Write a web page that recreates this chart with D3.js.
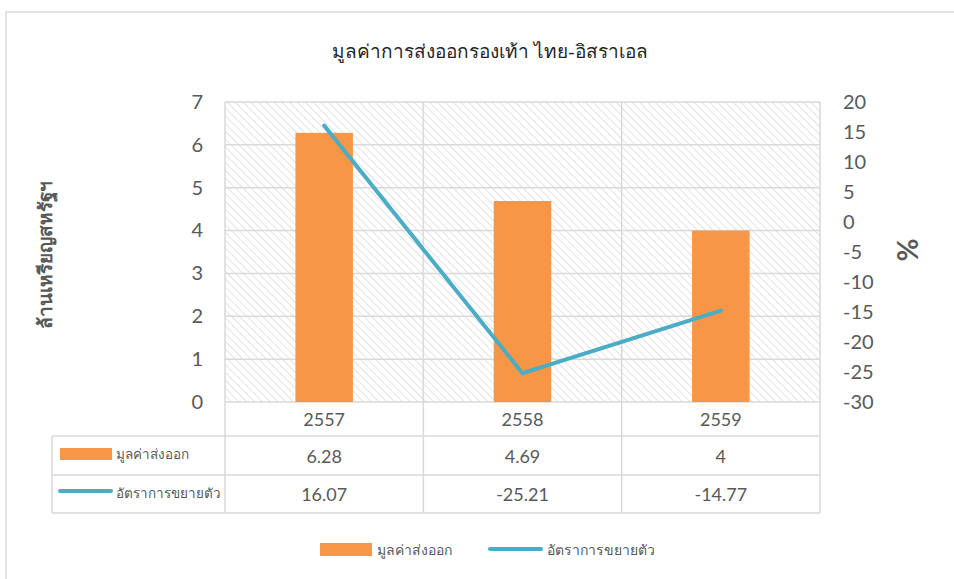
<!DOCTYPE html>
<html>
<head>
<meta charset="utf-8">
<script src="https://cdn.jsdelivr.net/npm/d3@7"></script>
<style>
  body { margin: 0; background: #fff; }
  text { fill: #595959; }
</style>
</head>
<body>
<script>
// chart data
const years = ["2557", "2558", "2559"];
const exportValues = [6.28, 4.69, 4];
const growthRates = [16.07, -25.21, -14.77];
const leftTicks = [0, 1, 2, 3, 4, 5, 6, 7];
const rightTicks = [20, 15, 10, 5, 0, -5, -10, -15, -20, -25, -30];
const seriesNames = ["มูลค่าส่งออก", "อัตราการขยายตัว"];

const width = 954, height = 579;
const plot = {left: 225, right: 820, top: 102, bottom: 402};
const rows = [402, 436, 475, 513];
const tableLeft = 52;
const barColor = "#f79646", lineColor = "#4bacc6", gridColor = "#d9d9d9";
const numFont = "Lato, 'Open Sans', 'Noto Sans', sans-serif";
const thaiFont = "'Noto Sans', 'DejaVu Sans', sans-serif";

const svg = d3.select("body").append("svg")
    .attr("width", width)
    .attr("height", height);

// outer chart border (only top/left visible)
svg.append("rect")
    .attr("x", 6).attr("y", 12)
    .attr("width", 980).attr("height", 600)
    .attr("fill", "none")
    .attr("stroke", gridColor)
    .attr("stroke-width", 1.5);

// hatch pattern for plot background
const defs = svg.append("defs");
const pat = defs.append("pattern")
    .attr("id", "hatch")
    .attr("patternUnits", "userSpaceOnUse")
    .attr("width", 5.5).attr("height", 5.5)
    .attr("patternTransform", "rotate(-45)");
pat.append("line")
    .attr("x1", 0).attr("y1", 0).attr("x2", 0).attr("y2", 5.5)
    .attr("stroke", "#dcdcdc").attr("stroke-width", 1.6);

const x = d3.scaleBand().domain(years).range([plot.left, plot.right]);
const yL = d3.scaleLinear().domain([0, 7]).range([plot.bottom, plot.top]);
const yR = d3.scaleLinear().domain([-30, 20]).range([plot.bottom, plot.top]);

svg.append("rect")
    .attr("x", plot.left).attr("y", plot.top)
    .attr("width", plot.right - plot.left).attr("height", plot.bottom - plot.top)
    .attr("fill", "url(#hatch)");

// horizontal gridlines
svg.append("g").selectAll("line")
    .data(leftTicks)
    .join("line")
    .attr("x1", plot.left).attr("x2", plot.right)
    .attr("y1", d => yL(d)).attr("y2", d => yL(d))
    .attr("stroke", gridColor).attr("stroke-width", 1.5);

// vertical lines: category boundaries through plot and table
const bounds = years.map(d => x(d)).concat([plot.right]);
svg.append("g").selectAll("line")
    .data(bounds)
    .join("line")
    .attr("x1", d => d).attr("x2", d => d)
    .attr("y1", plot.top).attr("y2", rows[3])
    .attr("stroke", gridColor).attr("stroke-width", 1.5);

// table horizontal lines
svg.append("g").selectAll("line")
    .data(rows.slice(1))
    .join("line")
    .attr("x1", tableLeft).attr("x2", plot.right)
    .attr("y1", d => d).attr("y2", d => d)
    .attr("stroke", gridColor).attr("stroke-width", 1.5);
svg.append("line")
    .attr("x1", tableLeft).attr("x2", tableLeft)
    .attr("y1", rows[1]).attr("y2", rows[3])
    .attr("stroke", gridColor).attr("stroke-width", 1.5);

// bars
const barW = x.bandwidth() * 0.29;
svg.append("g").selectAll("rect")
    .data(exportValues)
    .join("rect")
    .attr("x", (d, i) => x(years[i]) + x.bandwidth() / 2 - barW / 2)
    .attr("y", d => yL(d))
    .attr("width", barW)
    .attr("height", d => yL(0) - yL(d))
    .attr("fill", barColor);

// growth line
const line = d3.line()
    .x((d, i) => x(years[i]) + x.bandwidth() / 2)
    .y(d => yR(d));
svg.append("path")
    .datum(growthRates)
    .attr("d", line)
    .attr("fill", "none")
    .attr("stroke", lineColor)
    .attr("stroke-width", 4)
    .attr("stroke-linecap", "round");

// left axis labels
const axL = svg.append("g")
    .attr("transform", `translate(${plot.left - 22},0)`)
    .call(d3.axisLeft(yL).tickValues(leftTicks).tickSize(0).tickPadding(0)
        .tickFormat(d => String(d)));
axL.select(".domain").remove();
axL.selectAll("text")
    .attr("font-family", numFont).attr("font-size", 20)
    .attr("fill", "#595959");

// right axis labels
const axR = svg.append("g")
    .attr("transform", `translate(${plot.right + 23},0)`)
    .call(d3.axisRight(yR).tickValues(rightTicks).tickSize(0).tickPadding(0)
        .tickFormat(d => String(d)));
axR.select(".domain").remove();
axR.selectAll("text")
    .attr("font-family", numFont).attr("font-size", 20)
    .attr("fill", "#595959");

// title
svg.append("text")
    .attr("x", 490).attr("y", 58)
    .attr("text-anchor", "middle")
    .attr("font-family", "'Liberation Serif', 'DejaVu Serif', serif")
    .attr("font-size", 19)
    .style("fill", "#262626")
    .text("มูลค่าการส่งออกรองเท้า ไทย-อิสราเอล");

// axis titles
svg.append("text")
    .attr("transform", "translate(52,255) rotate(-90)")
    .attr("text-anchor", "middle")
    .attr("font-family", thaiFont)
    .attr("font-size", 19)
    .attr("font-weight", "bold")
    .text("ล้านเหรียญสหรัฐฯ");

svg.append("text")
    .attr("transform", "translate(897,250) rotate(90)")
    .attr("text-anchor", "middle")
    .attr("font-family", numFont)
    .attr("font-size", 28)
    .attr("font-weight", "bold")
    .text("%");

// table: category row
svg.append("g").selectAll("text")
    .data(years)
    .join("text")
    .attr("x", d => x(d) + x.bandwidth() / 2)
    .attr("y", (rows[0] + rows[1]) / 2 + 7)
    .attr("text-anchor", "middle")
    .attr("font-family", numFont).attr("font-size", 18)
    .text(d => d);

// table: value rows
[exportValues, growthRates].forEach((vals, r) => {
    svg.append("g").selectAll("text")
        .data(vals)
        .join("text")
        .attr("x", (d, i) => x(years[i]) + x.bandwidth() / 2)
        .attr("y", (rows[r + 1] + rows[r + 2]) / 2 + 7)
        .attr("text-anchor", "middle")
        .attr("font-family", numFont).attr("font-size", 18)
        .text(d => d);
});

// table legend keys
svg.append("rect")
    .attr("x", 60).attr("y", 448).attr("width", 52).attr("height", 12)
    .attr("fill", barColor);
svg.append("line")
    .attr("x1", 60).attr("x2", 111).attr("y1", 491).attr("y2", 491)
    .attr("stroke", lineColor).attr("stroke-width", 4).attr("stroke-linecap", "round");
svg.append("g").selectAll("text")
    .data(seriesNames)
    .join("text")
    .attr("x", 116)
    .attr("y", (d, i) => [459, 498][i])
    .attr("font-family", thaiFont).attr("font-size", 13.5)
    .text(d => d);

// bottom legend
svg.append("rect")
    .attr("x", 320).attr("y", 543).attr("width", 52).attr("height", 13)
    .attr("fill", barColor);
svg.append("text")
    .attr("x", 377).attr("y", 555)
    .attr("font-family", thaiFont).attr("font-size", 14)
    .text(seriesNames[0]);
svg.append("line")
    .attr("x1", 490).attr("x2", 541).attr("y1", 549).attr("y2", 549)
    .attr("stroke", lineColor).attr("stroke-width", 4).attr("stroke-linecap", "round");
svg.append("text")
    .attr("x", 547).attr("y", 555)
    .attr("font-family", thaiFont).attr("font-size", 14)
    .text(seriesNames[1]);
</script>
</body>
</html>
